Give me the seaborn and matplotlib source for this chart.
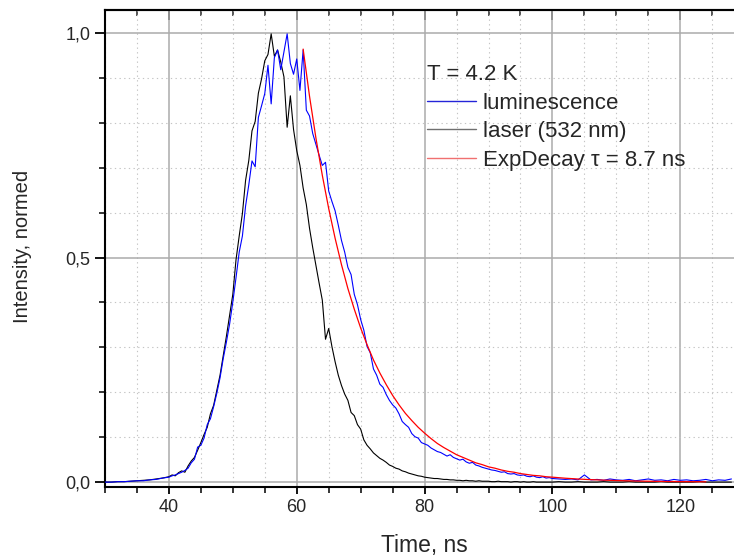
import numpy as np
import pandas as pd
import matplotlib
matplotlib.use("Agg")
import matplotlib.pyplot as plt
import seaborn as sns
from matplotlib.lines import Line2D
from matplotlib.ticker import MultipleLocator, FuncFormatter

# time axis: 1 ns steps on the flat parts, 0.5 ns through the pulse
time_ns = np.concatenate([np.arange(30, 40, 1.0), np.arange(40, 100, 0.5), np.arange(100, 128.5, 1.0)])

laser = [
    0.000, 0.000, 0.001, 0.001, 0.002, 0.003, 0.004, 0.005, 0.007, 0.009,
    0.012, 0.016, 0.014, 0.021, 0.025, 0.022, 0.036, 0.047, 0.055, 0.071,
    0.088, 0.106, 0.122, 0.152, 0.171, 0.205, 0.238, 0.282, 0.325, 0.372,
    0.418, 0.495, 0.548, 0.598, 0.672, 0.716, 0.782, 0.803, 0.866, 0.898,
    0.938, 0.952, 0.998, 0.948, 0.962, 0.935, 0.902, 0.790, 0.860, 0.785,
    0.738, 0.705, 0.655, 0.618, 0.565, 0.522, 0.482, 0.443, 0.405, 0.318,
    0.342, 0.302, 0.268, 0.238, 0.215, 0.196, 0.182, 0.155, 0.148, 0.128,
    0.118, 0.094, 0.082, 0.074, 0.065, 0.059, 0.053, 0.049, 0.044, 0.038,
    0.035, 0.031, 0.029, 0.025, 0.023, 0.020, 0.018, 0.016, 0.014, 0.013,
    0.011, 0.010, 0.009, 0.008, 0.008, 0.007, 0.006, 0.006, 0.005, 0.005,
    0.004, 0.004, 0.003, 0.004, 0.003, 0.003, 0.002, 0.003, 0.002, 0.002,
    0.002, 0.001, 0.001, 0.002, 0.001, 0.001, 0.001, 0.000, 0.001, 0.001,
    0.000, 0.001, 0.000, 0.000, 0.001, 0.000, 0.000, 0.000, 0.000, 0.000,
    0.000, 0.001, 0.000, 0.000, 0.001, 0.000, 0.000, 0.000, 0.001, 0.000,
    0.000, 0.000, 0.001, 0.000, 0.000, 0.000, 0.000, 0.001, 0.000, 0.000,
    0.000, 0.000, 0.000, 0.001, 0.000, 0.000, 0.000, 0.000, 0.000,
]

luminescence = [
    0.000, 0.000, 0.001, 0.001, 0.002, 0.003, 0.003, 0.005, 0.006, 0.009,
    0.011, 0.014, 0.016, 0.019, 0.022, 0.026, 0.031, 0.043, 0.051, 0.078,
    0.082, 0.098, 0.128, 0.141, 0.168, 0.198, 0.232, 0.275, 0.312, 0.352,
    0.401, 0.455, 0.512, 0.548, 0.615, 0.662, 0.715, 0.702, 0.812, 0.838,
    0.865, 0.928, 0.842, 0.945, 0.962, 0.918, 0.958, 0.998, 0.932, 0.908,
    0.942, 0.872, 0.962, 0.828, 0.815, 0.776, 0.752, 0.728, 0.705, 0.712,
    0.648, 0.625, 0.604, 0.572, 0.538, 0.512, 0.478, 0.462, 0.418, 0.395,
    0.362, 0.338, 0.302, 0.288, 0.252, 0.238, 0.218, 0.211, 0.195, 0.182,
    0.172, 0.165, 0.152, 0.135, 0.128, 0.122, 0.108, 0.101, 0.098, 0.088,
    0.085, 0.082, 0.076, 0.072, 0.068, 0.066, 0.062, 0.058, 0.061, 0.055,
    0.052, 0.049, 0.051, 0.045, 0.042, 0.044, 0.038, 0.036, 0.033, 0.031,
    0.029, 0.027, 0.026, 0.024, 0.022, 0.023, 0.019, 0.018, 0.019, 0.016,
    0.015, 0.016, 0.013, 0.012, 0.014, 0.011, 0.010, 0.012, 0.009, 0.010,
    0.008, 0.007, 0.006, 0.007, 0.005, 0.016, 0.005, 0.006, 0.004, 0.007,
    0.005, 0.004, 0.006, 0.003, 0.005, 0.007, 0.004, 0.005, 0.003, 0.006,
    0.004, 0.005, 0.003, 0.004, 0.006, 0.003, 0.005, 0.004, 0.007,
]

# fitted exp decay
fit_t = [61, 62, 63, 64, 65, 66, 67, 68, 69, 70, 71, 72, 73, 74, 75, 76, 77, 78, 79, 80,
         81, 82, 83, 84, 85, 86, 87, 88, 89, 90, 91, 92, 93, 94, 95, 96, 97, 98, 99, 100,
         102, 104, 106, 108, 110, 112, 114, 116, 118, 120, 122, 124]
fit_v = [0.964, 0.859, 0.766, 0.683, 0.609, 0.543, 0.484, 0.431, 0.385, 0.343,
         0.306, 0.272, 0.243, 0.217, 0.193, 0.172, 0.153, 0.137, 0.122, 0.109,
         0.097, 0.086, 0.077, 0.069, 0.061, 0.055, 0.049, 0.043, 0.039, 0.034,
         0.031, 0.027, 0.024, 0.022, 0.019, 0.017, 0.015, 0.014, 0.012, 0.011,
         0.0087, 0.0069, 0.0055, 0.0044, 0.0035, 0.0028, 0.0022, 0.0017, 0.0014, 0.0011,
         0.0009, 0.0007]

legend_title = "T = 4.2 K"
legend_labels = ["luminescence", "laser (532 nm)", "ExpDecay \u03c4 = 8.7 ns"]

df = pd.DataFrame({"t": time_ns, "lum": luminescence, "laser": laser})
fit_df = pd.DataFrame({"t": fit_t, "v": fit_v})

sns.set_style("white")
plt.rcParams["font.family"] = ["Liberation Sans", "DejaVu Sans"]

fig = plt.figure(figsize=(7.34, 5.56), dpi=100)
ax = fig.add_axes([0.143, 0.124, 0.857, 0.858])

sns.lineplot(data=df, x="t", y="laser", ax=ax, color="black", lw=0.8, estimator=None, zorder=3)
sns.lineplot(data=df, x="t", y="lum", ax=ax, color="#0000ff", lw=0.8, estimator=None, zorder=4)
sns.lineplot(data=fit_df, x="t", y="v", ax=ax, color="#ff0000", lw=0.9, estimator=None, zorder=5)

ax.set_xlim(30, 128.4)
ax.set_ylim(-0.011, 1.051)

ax.xaxis.set_major_locator(MultipleLocator(20))
ax.xaxis.set_minor_locator(MultipleLocator(5))
ax.yaxis.set_major_locator(MultipleLocator(0.5))
ax.yaxis.set_minor_locator(MultipleLocator(0.1))
ax.yaxis.set_major_formatter(FuncFormatter(lambda v, p: f"{v:.1f}".replace(".", ",")))

ax.grid(which="major", color="#ababab", lw=1.1, ls="-")
ax.grid(which="minor", color="#c4c4c4", lw=0.8, ls=(0, (1.2, 3)))
ax.set_axisbelow(True)

for side in ["left", "bottom", "top"]:
    ax.spines[side].set_color("black")
    ax.spines[side].set_linewidth(1.5)
ax.spines["right"].set_visible(False)

ax.tick_params(axis="x", which="both", bottom=True, top=False, labelsize=13, color="black")
ax.tick_params(axis="x", which="major", length=5, width=1.3, direction="out")
ax.tick_params(axis="x", which="minor", length=4, width=1.1, direction="out")
ax.tick_params(axis="y", which="both", left=True, labelsize=13, color="black")
ax.tick_params(axis="y", which="major", length=7, width=1.3, direction="out")
ax.tick_params(axis="y", which="minor", length=4, width=1.1, direction="out")

# inward ticks along the top frame
ax_top = ax.secondary_xaxis("top")
ax_top.xaxis.set_major_locator(MultipleLocator(20))
ax_top.xaxis.set_minor_locator(MultipleLocator(5))
ax_top.tick_params(which="major", direction="in", length=7, width=1.3, labeltop=False)
ax_top.tick_params(which="minor", direction="in", length=4, width=1.1)
ax_top.spines["top"].set_linewidth(1.5)

ax.set_xlabel("Time, ns", fontsize=16.5)
ax.xaxis.set_label_coords(0.507, -0.098)
ax.set_ylabel("Intensity, normed", fontsize=14.5)
ax.yaxis.set_label_coords(-0.116, 0.505)

handles = [Line2D([], [], color="#2424d8", lw=1.0),
           Line2D([], [], color="#707070", lw=1.0),
           Line2D([], [], color="#f07070", lw=1.0)]
leg = ax.legend(handles, legend_labels, title=legend_title, alignment="left",
                loc="upper left", bbox_to_anchor=(427 / 734, 1 - 64 / 556),
                bbox_transform=fig.transFigure, frameon=False, fontsize=16,
                title_fontsize=16, handlelength=2.2, handletextpad=0.3,
                borderpad=0, borderaxespad=0, labelspacing=0.34)

fig.savefig("out.png", dpi=100)
